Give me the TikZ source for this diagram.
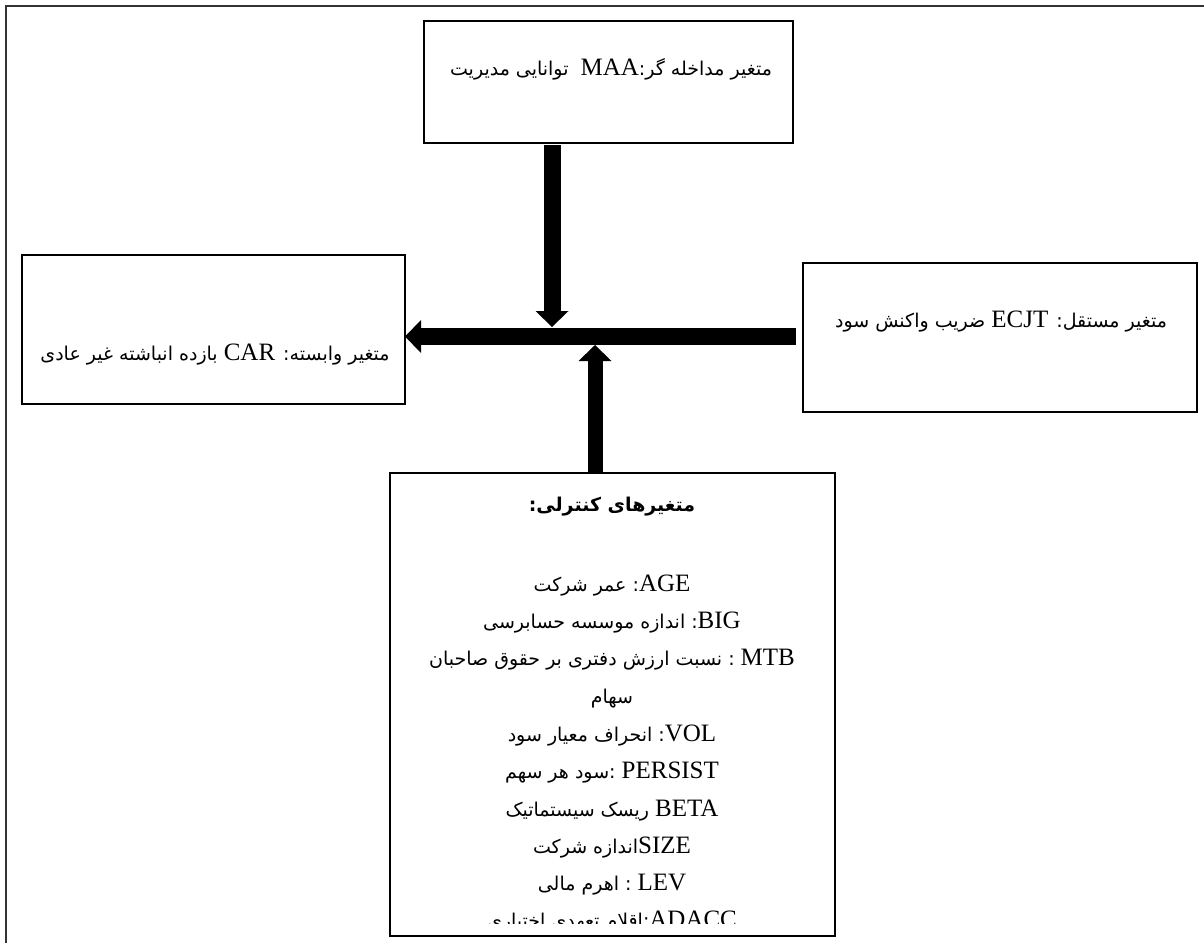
\documentclass[tikz,border=0pt]{standalone}
\usepackage{fontspec}
\setmainfont{Liberation Serif}
\newfontfamily\persianfont[Script=Arabic]{DejaVu Sans}
\TeXXeTstate=1
\usetikzlibrary{arrows.meta}

% Latin run inside a right-to-left line
\newcommand\LatinRun[1]{\beginL{\rmfamily\fontsize{25pt}{37pt}\selectfont #1}\endL{}}
% A right-to-left Persian line
\newcommand\FaLine[1]{{\persianfont\fontsize{19pt}{37pt}\selectfont\beginR #1\endR}}

\tikzset{
  frameline/.style={line width=2pt, draw=black!80},
  varbox/.style={draw, line width=1.8pt, rectangle, inner sep=0pt, outer sep=0pt},
  txt/.style={inner sep=0pt, outer sep=0pt},
  flow/.style={line width=17pt, line cap=butt,
    -{Triangle[width=33pt,length=16pt,line width=0pt]}},
}

\begin{document}
\begin{tikzpicture}[x=1pt,y=-1pt]
\useasboundingbox (0,0) rectangle (1204,943);

% outer frame (left and top)
\draw[frameline] (6,943) -- (6,6) -- (1204,6);

% variable boxes
\node[varbox, minimum width=369pt, minimum height=122pt] (mod) at (608.5,82) {};
\node[varbox, minimum width=383pt, minimum height=149pt] (dep) at (213.5,329.5) {};
\node[varbox, minimum width=394pt, minimum height=149pt] (ind) at (1000,337.5) {};
\node[varbox, minimum width=445pt, minimum height=463pt] (ctl) at (612.5,704.5) {};

% box texts
\node[txt] (modtxt) at (611,69) {\FaLine{متغیر مداخله گر:\LatinRun{MAA}\ \ توانایی مدیریت}};
\node[txt] (deptxt) at (215,355) {\FaLine{متغیر وابسته: \LatinRun{CAR} بازده انباشته غیر عادی}};
\node[txt] (indtxt) at (1001,322) {\FaLine{متغیر مستقل: \LatinRun{ECJT} ضریب واکنش سود}};

% control variables; the last line runs past the bottom of the box text area
\begin{scope}
  \clip (392,475) rectangle (833,923);
  \node[txt] (c0) at (612,507) {\FaLine{\bfseries متغیرهای کنترلی:}};
  \node[txt] (c1) at (612,586) {\FaLine{\LatinRun{AGE}: عمر شرکت}};
  \node[txt] (c2) at (612,623) {\FaLine{\LatinRun{BIG}: اندازه موسسه حسابرسی}};
  \node[txt] (c3) at (612,660) {\FaLine{\LatinRun{MTB} : نسبت ارزش دفتری بر حقوق صاحبان}};
  \node[txt] (c4) at (612,699) {\FaLine{سهام}};
  \node[txt] (c5) at (612,736) {\FaLine{\LatinRun{VOL}: انحراف معیار سود}};
  \node[txt] (c6) at (612,773) {\FaLine{\LatinRun{PERSIST} :سود هر سهم}};
  \node[txt] (c7) at (612,811) {\FaLine{\LatinRun{BETA} ریسک سیستماتیک}};
  \node[txt] (c8) at (612,848) {\FaLine{\LatinRun{SIZE}اندازه شرکت}};
  \node[txt] (c9) at (612,885) {\FaLine{\LatinRun{LEV} : اهرم مالی}};
  \node[txt] (c10) at (612,922) {\FaLine{\LatinRun{ADACC}:اقلام تعهدی اختیاری}};
\end{scope}

% junction points on the main arrow
\coordinate (hy) at (0,336.5);
\coordinate (jtop) at (552,327);
\coordinate (jbot) at (595,345);

% arrows
\draw[flow] (ind.west |- hy) ++(-7,0) -- (dep.east |- hy);
\draw[flow, shorten <=2pt] (mod.south -| jtop) -- (jtop);
\draw[flow, line width=15pt] (ctl.north -| jbot) -- (jbot);
\end{tikzpicture}
\end{document}
